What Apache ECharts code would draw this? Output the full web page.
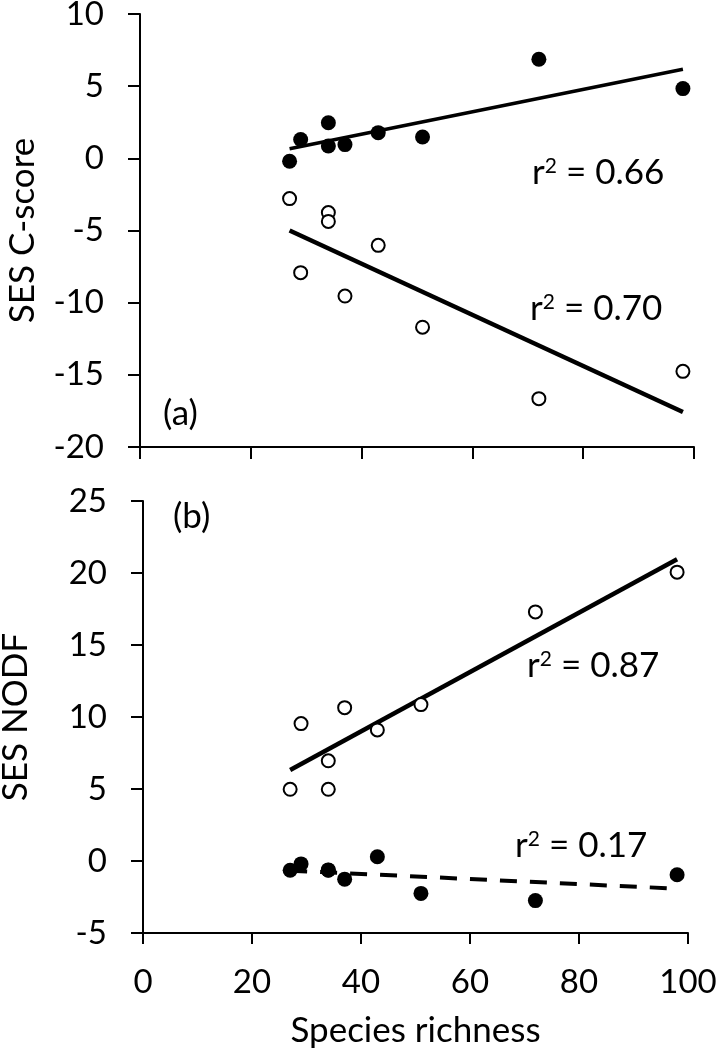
<!DOCTYPE html>
<html>
<head>
<meta charset="utf-8">
<script src="https://cdn.jsdelivr.net/npm/echarts@6/dist/echarts.min.js"></script>
<style>
html,body{margin:0;padding:0;background:#fff;}
#chart{width:717px;height:1053px;}
</style>
</head>
<body>
<div id="chart"></div>
<script>
// Species richness of each site (x values, shared by both panels)
const richness = [27, 29, 34, 34, 37, 43, 51, 72, 98];
// Panel (a): SES C-score
const cscoreFilled = [-0.2, 1.3, 2.47, 0.85, 0.95, 1.78, 1.48, 6.86, 4.83];
const cscoreOpen   = [-2.79, -7.92, -3.76, -4.37, -9.54, -6.03, -11.7, -16.65, -14.76];
// Panel (b): SES NODF
const nodfOpen   = [4.98, 9.54, 6.96, 4.98, 10.65, 9.1, 10.86, 17.3, 20.06];
const nodfFilled = [-0.64, -0.2, -0.64, -0.62, -1.26, 0.3, -2.25, -2.75, -0.95];
// Regression line end points: [x, y]
const fitCscoreFilled = [[27, 0.67], [98, 6.17]];
const fitCscoreOpen   = [[27, -5.0], [98, -17.58]];
const fitNodfOpen     = [[27, 6.32], [98, 20.96]];
const fitNodfFilled   = [[27, -0.67], [98, -1.92]];
// Axis settings / labels
const xTicks = {min: 0, max: 100, interval: 20};
const yTicksA = {min: -20, max: 10, interval: 5};
const yTicksB = {min: -5, max: 25, interval: 5};
const r2Values = ['0.66', '0.70', '0.87', '0.17'];
const panelLabels = ['(a)', '(b)'];
const xTitle = 'Species richness';
const yTitles = ['SES C-score', 'SES NODF'];

const FONT = 'Lato';
const pts = (ys) => richness.map((x, i) => [x, ys[i]]);

const axisLine = {show: true, onZero: false, lineStyle: {color: '#000', width: 2}};
const tick = (len) => ({show: true, inside: false, length: len, lineStyle: {color: '#000', width: 2}});
const tickLabel = {color: '#000', fontFamily: FONT, fontSize: 33};

function yAxis(idx, t, name, gap) {
  return {
    type: 'value', gridIndex: idx, min: t.min, max: t.max, interval: t.interval,
    axisLine, axisTick: tick(12), splitLine: {show: false},
    axisLabel: Object.assign({margin: 36}, tickLabel),
    name, nameLocation: 'middle', nameGap: gap, nameMoveOverlap: false,
    nameTextStyle: {color: '#000', fontFamily: FONT, fontSize: 35}
  };
}

const filledSym = {symbol: 'circle', symbolSize: 15, itemStyle: {color: '#000', opacity: 1}};
const openSym = {symbol: 'circle', symbolSize: 13, itemStyle: {color: '#fff', borderColor: '#000', borderWidth: 2, opacity: 1}};

function lineSeries(xi, data, width, type) {
  return {type: 'line', xAxisIndex: xi, yAxisIndex: xi, data, showSymbol: false, symbol: 'none',
    lineStyle: {color: '#000', width, type: type || 'solid'}, z: 2, silent: true, animation: false};
}
function scatter(xi, data, sym) {
  return Object.assign({type: 'scatter', xAxisIndex: xi, yAxisIndex: xi, data, z: 3, animation: false, silent: true}, sym);
}

const txt = (text, x, y, size, rich) => ({
  type: 'text', x, y,
  style: {text, fill: '#000', fontFamily: FONT, fontSize: size, align: 'left', verticalAlign: 'middle', rich}
});
const supRich = {
  b: {fontFamily: FONT, fontSize: 35, color: '#000'},
  s: {fontFamily: FONT, fontSize: 21, color: '#000', verticalAlign: 'top', lineHeight: 21}
};
const r2 = (v, x, y) => txt('{b|r}{s|2}{b| = ' + v + '}', x, y, 35, supRich);

const option = {
  backgroundColor: '#fff',
  animation: false,
  grid: [
    {left: 140, top: 14, width: 554, height: 433, outerBoundsMode: 'none', containLabel: false},
    {left: 143, top: 501, width: 545, height: 432, outerBoundsMode: 'none', containLabel: false}
  ],
  xAxis: [
    {type: 'value', gridIndex: 0, min: xTicks.min, max: xTicks.max, interval: xTicks.interval,
     axisLine, axisTick: tick(12), splitLine: {show: false}, axisLabel: {show: false}},
    {type: 'value', gridIndex: 1, min: xTicks.min, max: xTicks.max, interval: xTicks.interval,
     axisLine, axisTick: tick(11), splitLine: {show: false},
     axisLabel: Object.assign({margin: 33}, tickLabel),
     name: xTitle, nameLocation: 'middle', nameGap: 80, nameMoveOverlap: false,
     nameTextStyle: {color: '#000', fontFamily: FONT, fontSize: 35}}
  ],
  yAxis: [
    yAxis(0, yTicksA, yTitles[0], 100),
    yAxis(1, yTicksB, yTitles[1], 110)
  ],
  series: [
    lineSeries(0, fitCscoreFilled, 3.5),
    lineSeries(0, fitCscoreOpen, 4.5),
    lineSeries(1, fitNodfOpen, 4.5),
    lineSeries(1, fitNodfFilled, 4, [17, 13]),
    scatter(0, pts(cscoreFilled), filledSym),
    scatter(0, pts(cscoreOpen), openSym),
    scatter(1, pts(nodfOpen), openSym),
    scatter(1, pts(nodfFilled), filledSym)
  ],
  graphic: [
    r2(r2Values[0], 532, 173),
    r2(r2Values[1], 530, 309),
    r2(r2Values[2], 527, 666),
    r2(r2Values[3], 515, 846),
    txt(panelLabels[0], 163, 414, 35),
    txt(panelLabels[1], 173, 517, 35)
  ]
};

const chart = echarts.init(document.getElementById('chart'), null, {renderer: 'canvas'});
chart.setOption(option);
</script>
</body>
</html>
